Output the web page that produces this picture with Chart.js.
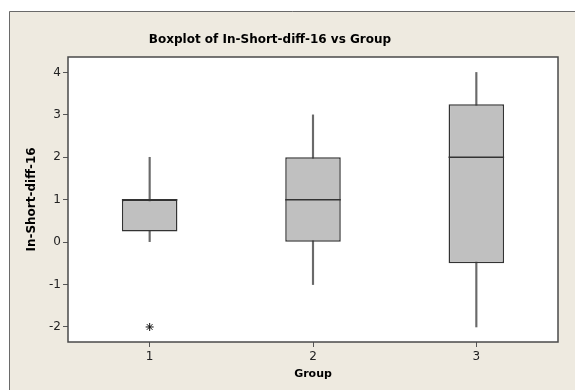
<!DOCTYPE html>
<html>
<head>
<meta charset="utf-8">
<script src="https://cdn.jsdelivr.net/npm/chart.js@4/dist/chart.umd.min.js"></script>
<style>
  html, body { margin: 0; padding: 0; background: #fff; }
  #wrap { width: 575px; height: 390px; }
</style>
</head>
<body>
<div id="wrap"><canvas id="c" width="575" height="390"></canvas></div>
<script>
// Five-number summaries per group
const groups      = ['1', '2', '3'];
const whiskerLow  = [0, -1, -2];
const whiskerHigh = [2, 3, 4];
const q1          = [0.25, 0, -0.5];
const q3          = [1, 2, 3.25];
const medians     = [1, 1, 2];
const outliers    = [{ x: '1', y: -2 }];
const yTicks      = [-2, -1, 0, 1, 2, 3, 4];

const titleText = 'Boxplot of In-Short-diff-16 vs Group';
const yTitle = 'In-Short-diff-16';
const xTitle = 'Group';

const BOX_FRACTION = 0.34;
const FONT = '"DejaVu Sans", Verdana, sans-serif';

// Background panel, plot frame and the text drawn around the plot
const framePlugin = {
  id: 'frame',
  beforeDraw(chart) {
    const { ctx, chartArea: a, width, height } = chart;
    ctx.save();
    ctx.fillStyle = '#ffffff';
    ctx.fillRect(0, 0, width, height);
    ctx.fillStyle = '#eeeae0';
    ctx.fillRect(9, 11, width - 9, height - 11);
    ctx.strokeStyle = '#6a6a6a';
    ctx.lineWidth = 1;
    ctx.beginPath();
    ctx.moveTo(9.5, height); ctx.lineTo(9.5, 11.5); ctx.lineTo(width, 11.5);
    ctx.stroke();
    ctx.fillStyle = '#ffffff';
    ctx.fillRect(a.left, a.top, a.right - a.left, a.bottom - a.top);

    ctx.fillStyle = '#000';
    ctx.textAlign = 'center';
    ctx.textBaseline = 'middle';
    ctx.font = 'bold 12px ' + FONT;
    ctx.fillText(titleText, 270, 40);

    ctx.font = 'bold 11px ' + FONT;
    ctx.fillText(xTitle, (a.left + a.right) / 2, 374);

    ctx.translate(32, (a.top + a.bottom) / 2);
    ctx.rotate(-Math.PI / 2);
    ctx.font = 'bold 12px ' + FONT;
    ctx.fillText(yTitle, 0, 0);
    ctx.restore();
  },
  afterDraw(chart) {
    const { ctx, chartArea: a } = chart;
    ctx.save();
    ctx.strokeStyle = '#4a4a4a';
    ctx.lineWidth = 1.5;
    ctx.strokeRect(a.left, a.top, a.right - a.left, a.bottom - a.top);
    ctx.restore();
  }
};

const boxHalfWidth = (c) => {
  const s = c.chart.scales.x;
  return s.width / groups.length * BOX_FRACTION / 2;
};

new Chart(document.getElementById('c'), {
  type: 'bar',
  data: {
    labels: groups,
    datasets: [
      {
        label: 'median',
        type: 'line',
        data: medians,
        showLine: false,
        pointStyle: 'line',
        pointRadius: boxHalfWidth,
        pointBorderColor: '#333',
        pointBorderWidth: 1.5,
        order: 0
      },
      {
        label: 'outlier',
        type: 'line',
        data: outliers,
        showLine: false,
        pointStyle: 'star',
        pointRadius: 4,
        pointBorderColor: '#111',
        pointBorderWidth: 1,
        order: 0
      },
      {
        label: 'box',
        data: groups.map((g, i) => [q1[i], q3[i]]),
        backgroundColor: '#c0c0c0',
        borderColor: '#333',
        borderWidth: 1.5,
        borderSkipped: false,
        barPercentage: BOX_FRACTION,
        categoryPercentage: 1,
        grouped: false,
        order: 1
      },
      {
        label: 'whisker',
        data: groups.map((g, i) => [whiskerLow[i], whiskerHigh[i]]),
        backgroundColor: '#6a6a6a',
        borderWidth: 0,
        barThickness: 1.5,
        grouped: false,
        order: 2
      }
    ]
  },
  options: {
    responsive: false,
    devicePixelRatio: 1,
    animation: false,
    events: [],
    layout: { padding: { top: 57, right: 17, bottom: 0, left: 0 } },
    plugins: {
      legend: { display: false },
      tooltip: { enabled: false },
      title: { display: false }
    },
    scales: {
      x: {
        type: 'category',
        offset: true,
        border: { display: false },
        grid: {
          offset: false,
          drawOnChartArea: false,
          drawTicks: true,
          tickLength: 5,
          color: '#555',
          lineWidth: 1
        },
        ticks: { color: '#222', font: { family: FONT, size: 12 }, padding: 3 },
        afterFit(s) { s.height = 48; }
      },
      y: {
        type: 'linear',
        min: -2.354,
        max: 4.364,
        border: { display: false },
        grid: {
          drawOnChartArea: false,
          drawTicks: true,
          tickLength: 5,
          color: '#555',
          lineWidth: 1
        },
        ticks: { color: '#222', font: { family: FONT, size: 12 }, padding: 2 },
        afterBuildTicks(s) { s.ticks = yTicks.map(v => ({ value: v })); },
        afterFit(s) { s.width = 68; }
      }
    }
  },
  plugins: [framePlugin]
});
</script>
</body>
</html>
